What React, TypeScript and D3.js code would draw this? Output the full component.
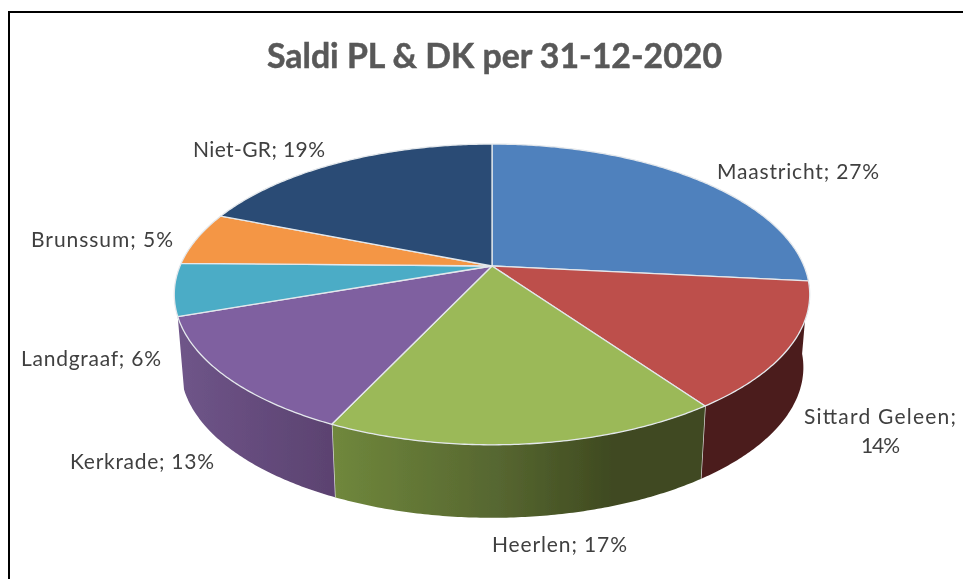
import React from "react";
import * as d3 from "d3";

const categories = ["Maastricht", "Sittard Geleen", "Heerlen", "Kerkrade", "Landgraaf", "Brunssum", "Niet-GR"];
const shares = [26.6, 13.6, 16.8, 12.7, 5.6, 5.7, 19.0];
const percentLabels = ["27%", "14%", "17%", "13%", "6%", "5%", "19%"];
const colors = ["#4f81bd", "#bd4f4c", "#9bb958", "#7f60a0", "#4bacc6", "#f49645", "#2a4c74"];
const title = "Saldi PL & DK per 31-12-2020";

const W = 963, H = 579;
const CX = 492, CY = 266;
const A = 145, B = 312, D = 0.189;
const DEPTH = 73, SHRINK = 0.98;

const top = (t: number): [number, number] => {
  const w = 1 + D * Math.cos(t);
  return [CX + (B * Math.sin(t)) / w, CY - (A * Math.cos(t)) / w];
};
const bottom = (t: number): [number, number] => {
  const [x, y] = top(t);
  return [CX + (x - CX) * SHRINK, y + DEPTH];
};
const samples = (a: number, b: number) => {
  const n = Math.max(2, Math.ceil(Math.abs(b - a) / 0.01));
  return d3.range(n + 1).map((i) => a + ((b - a) * i) / n);
};
const line = d3.line();

const SIDE_END = (251 / 180) * Math.PI;
const slices = d3.pie<number>().sort(null).startAngle(0).endAngle(2 * Math.PI)(shares);

// side-wall gradients per slice (horizontal, user space)
const sideGradients: Record<number, { x1: number; x2: number; stops: [number, string][] }> = {
  1: { x1: 702, x2: 810, stops: [[0, "#4b1d1c"], [1, "#4b1d1c"]] },
  2: { x1: 331, x2: 706, stops: [[0, "#70883c"], [0.45, "#566630"], [0.75, "#3f4a20"], [1, "#3f4a20"]] },
  3: { x1: 178, x2: 335, stops: [[0, "#6f5589"], [1, "#5b4270"]] },
};

const labelLines = [
  { i: 0, text: (c: string, p: string) => `${c}; ${p}`, x: 717, y: 179, len: 162 },
  { i: 1, text: (c: string) => `${c};`, x: 804, y: 424, len: 152 },
  { i: 1, text: (_: string, p: string) => p, x: 861, y: 453, len: 39 },
  { i: 2, text: (c: string, p: string) => `${c}; ${p}`, x: 492, y: 552, len: 135 },
  { i: 3, text: (c: string, p: string) => `${c}; ${p}`, x: 70, y: 469, len: 144 },
  { i: 4, text: (c: string, p: string) => `${c}; ${p}`, x: 21, y: 366, len: 140 },
  { i: 5, text: (c: string, p: string) => `${c}; ${p}`, x: 31, y: 247, len: 142 },
  { i: 6, text: (c: string, p: string) => `${c}; ${p}`, x: 193, y: 157, len: 132 },
];

export default function App() {
  return (
    <svg
      width={W}
      height={H}
      viewBox={`0 0 ${W} ${H}`}
      style={{ position: "absolute", left: 0, top: 0, display: "block", background: "#fff" }}
    >
      <defs>
        <filter id="soft" x="-5%" y="-5%" width="110%" height="110%">
          <feGaussianBlur stdDeviation="0.45" />
        </filter>
        <filter id="softText" x="-5%" y="-20%" width="110%" height="140%">
          <feGaussianBlur stdDeviation="0.35" />
        </filter>
        {Object.entries(sideGradients).map(([k, g]) => (
          <linearGradient key={k} id={`side${k}`} gradientUnits="userSpaceOnUse" x1={g.x1} x2={g.x2} y1={0} y2={0}>
            {g.stops.map(([o, c]) => (
              <stop key={o} offset={o} stopColor={c} />
            ))}
          </linearGradient>
        ))}
      </defs>

      <path d={`M9 ${H}V12H${W}`} fill="none" stroke="#000" strokeWidth={2} />

      <g filter="url(#soft)">
        {slices.map((s, i) => {
          if (!sideGradients[i]) return null;
          const a = s.startAngle;
          const b = Math.min(s.endAngle, SIDE_END);
          const pts = [...samples(a, b).map(top), ...samples(b, a).map(bottom)];
          const seamT = line([top(b), bottom(b)]) as string;
          return (
            <g key={i}>
              <path d={(line(pts) as string) + "Z"} fill={`url(#side${i})`} />
              {i < 3 && i > 0 && <path d={seamT} stroke="#dcdcdc" strokeWidth={1.4} fill="none" />}
            </g>
          );
        })}
        {slices.map((s, i) => {
          const rim = samples(s.startAngle, s.endAngle).map(top);
          return (
            <path
              key={i}
              d={(line([[CX, CY], ...rim]) as string) + "Z"}
              fill={colors[i]}
              stroke="#e4e8ec"
              strokeWidth={1.3}
              strokeLinejoin="round"
            />
          );
        })}
      </g>

      <g fontFamily="Lato, 'Open Sans', sans-serif" filter="url(#softText)">
        <text
          x={267}
          y={68}
          fontSize={35}
          fontWeight={700}
          fill="#595959"
          stroke="#595959"
          strokeWidth={0.5}
          textLength={455}
          lengthAdjust="spacingAndGlyphs"
        >
          {title}
        </text>
        {labelLines.map((l, k) => (
          <text key={k} x={l.x} y={l.y} fontSize={21} fill="#404040" textLength={l.len} lengthAdjust="spacing">
            {l.text(categories[l.i], percentLabels[l.i])}
          </text>
        ))}
      </g>
    </svg>
  );
}
